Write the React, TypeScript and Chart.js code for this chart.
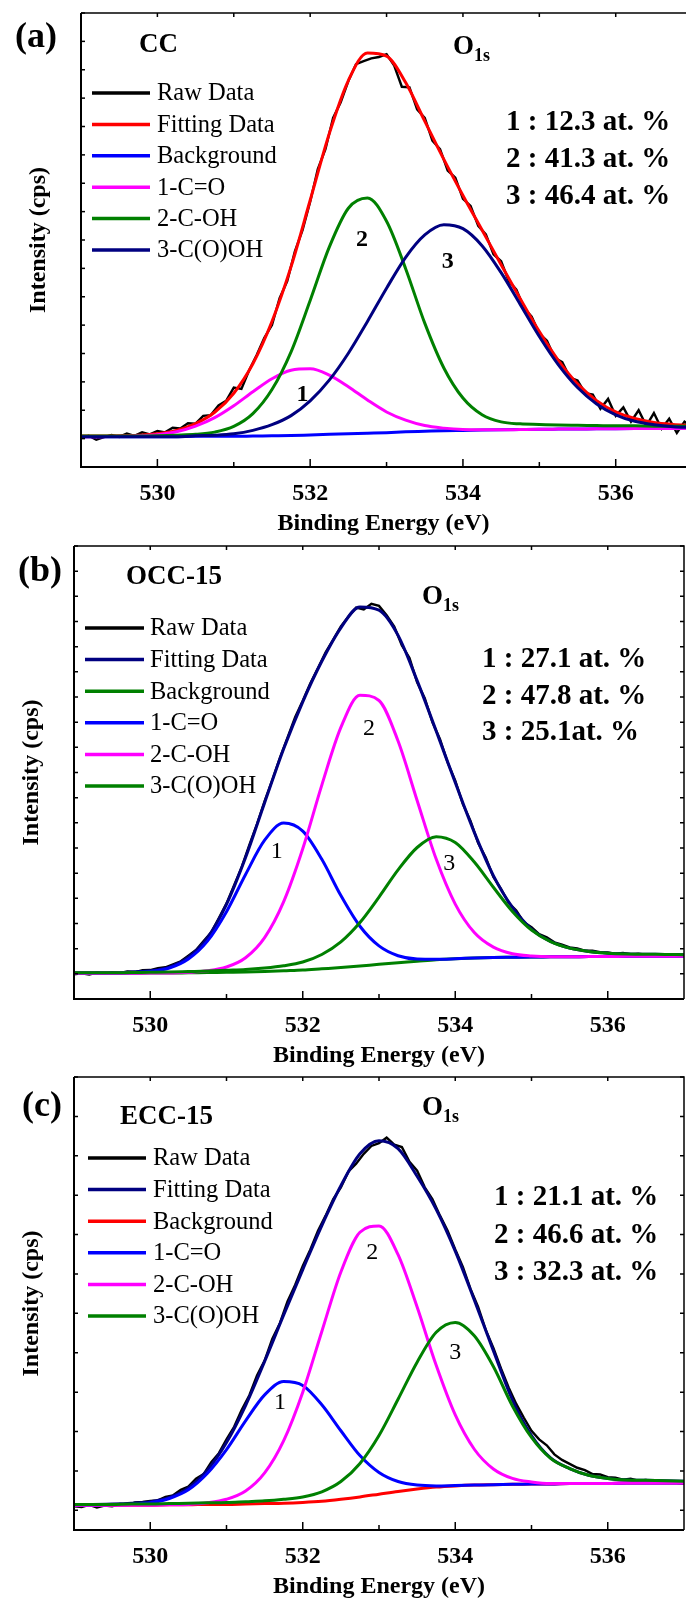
import React, { useEffect, useRef } from 'react';
import { Chart, registerables } from 'chart.js';

Chart.register(...registerables);

const SERIF = "'Liberation Serif', 'Times New Roman', Times, serif";
Chart.defaults.font.family = SERIF;
Chart.defaults.color = '#000';

// ---------- shared axes ----------
const ENERGY = [529, 529.25, 529.5, 529.75, 530, 530.25, 530.5, 530.75, 531, 531.25, 531.5, 531.75, 532, 532.25, 532.5, 532.75, 533, 533.25, 533.5, 533.75, 534, 534.25, 534.5, 534.75, 535, 535.25, 535.5, 535.75, 536, 536.25, 536.5, 536.75, 537];
const ENERGY_RAW = [529.0, 529.1, 529.2, 529.3, 529.4, 529.5, 529.6, 529.7, 529.8, 529.9, 530.0, 530.1, 530.2, 530.3, 530.4, 530.5, 530.6, 530.7, 530.8, 530.9, 531.0, 531.1, 531.2, 531.3, 531.4, 531.5, 531.6, 531.7, 531.8, 531.9, 532.0, 532.1, 532.2, 532.3, 532.4, 532.5, 532.6, 532.7, 532.8, 532.9, 533.0, 533.1, 533.2, 533.3, 533.4, 533.5, 533.6, 533.7, 533.8, 533.9, 534.0, 534.1, 534.2, 534.3, 534.4, 534.5, 534.6, 534.7, 534.8, 534.9, 535.0, 535.1, 535.2, 535.3, 535.4, 535.5, 535.6, 535.7, 535.8, 535.9, 536.0, 536.1, 536.2, 536.3, 536.4, 536.5, 536.6, 536.7, 536.8, 536.9, 537.0];
const X_TICKS = [530, 532, 534, 536];
const LEGEND_LABELS = ['Raw Data', 'Fitting Data', 'Background', '1-C=O', '2-C-OH', '3-C(O)OH'];
const PEAK_NAMES = ['1', '2', '3'];

// ---------- panel (a) CC ----------
const A_RAW = [1.02, 1.10, 0.96, 1.05, 1.13, 1.06, 1.18, 1.10, 1.22, 1.15, 1.27, 1.22, 1.38, 1.36, 1.54, 1.53, 1.80, 1.83, 2.17, 2.33, 2.80, 2.75, 3.40, 3.95, 4.55, 5.00, 5.95, 6.55, 7.60, 8.35, 9.35, 10.50, 11.20, 12.30, 12.85, 13.60, 14.20, 14.30, 14.40, 14.45, 14.55, 14.15, 13.40, 13.38, 12.60, 12.30, 11.50, 11.20, 10.45, 10.20, 9.45, 9.20, 8.50, 8.20, 7.50, 7.25, 6.55, 6.25, 5.60, 5.30, 4.70, 4.45, 3.85, 3.70, 3.15, 3.05, 2.60, 2.55, 2.05, 2.40, 1.80, 2.10, 1.60, 2.00, 1.45, 1.90, 1.35, 1.70, 1.20, 1.60, 1.40];
const A_FIT = [1.09, 1.09, 1.10, 1.12, 1.17, 1.29, 1.53, 1.93, 2.60, 3.64, 5.13, 7.06, 9.40, 11.75, 13.62, 14.59, 14.48, 13.55, 12.19, 10.84, 9.57, 8.35, 7.13, 5.93, 4.77, 3.75, 2.93, 2.34, 1.94, 1.71, 1.57, 1.50, 1.46];
const A_BACKGROUND = [1.07, 1.07, 1.07, 1.07, 1.07, 1.07, 1.08, 1.08, 1.08, 1.09, 1.10, 1.11, 1.13, 1.15, 1.17, 1.19, 1.21, 1.24, 1.26, 1.28, 1.29, 1.30, 1.31, 1.32, 1.33, 1.335, 1.34, 1.345, 1.35, 1.355, 1.36, 1.36, 1.36];
const A_PEAK1 = [1.07, 1.07, 1.08, 1.10, 1.14, 1.24, 1.44, 1.74, 2.16, 2.65, 3.11, 3.41, 3.46, 3.24, 2.83, 2.36, 1.94, 1.65, 1.46, 1.37, 1.32, 1.31, 1.31, 1.32, 1.33, 1.335, 1.34, 1.345, 1.35, 1.355, 1.36, 1.36, 1.36];
const A_PEAK2 = [1.09, 1.09, 1.09, 1.09, 1.10, 1.12, 1.15, 1.23, 1.43, 1.88, 2.73, 4.06, 5.87, 7.75, 9.12, 9.48, 8.66, 6.99, 5.07, 3.49, 2.43, 1.84, 1.59, 1.52, 1.50, 1.48, 1.47, 1.46, 1.45, 1.45, 1.44, 1.44, 1.43];
const A_PEAK3 = [1.07, 1.07, 1.07, 1.07, 1.07, 1.07, 1.10, 1.12, 1.17, 1.29, 1.49, 1.81, 2.33, 3.06, 4.01, 5.13, 6.30, 7.39, 8.18, 8.54, 8.40, 7.80, 6.85, 5.73, 4.60, 3.60, 2.80, 2.22, 1.84, 1.61, 1.49, 1.42, 1.39];
const A_Y_TICKS = [0, 1, 2, 3, 4, 5, 6, 7, 8, 9, 10, 11, 12, 13, 14, 15, 16];
const A_PERCENT = ['1 : 12.3 at. %', '2 : 41.3 at. %', '3 : 46.4 at. %'];

// ---------- panel (b) OCC-15 ----------
const B_RAW = [0.98, 1.02, 0.97, 1.05, 1.00, 1.06, 1.03, 1.09, 1.07, 1.14, 1.15, 1.22, 1.26, 1.38, 1.50, 1.72, 1.95, 2.30, 2.65, 3.22, 3.80, 4.52, 5.25, 6.12, 6.95, 7.86, 8.70, 9.58, 10.38, 11.20, 11.85, 12.55, 13.15, 13.78, 14.28, 14.80, 15.20, 15.55, 15.48, 15.70, 15.62, 15.25, 14.80, 14.05, 13.55, 12.58, 11.95, 11.00, 10.32, 9.40, 8.68, 7.75, 7.08, 6.20, 5.62, 4.85, 4.38, 3.82, 3.52, 3.05, 2.85, 2.58, 2.45, 2.25, 2.16, 2.05, 2.01, 1.92, 1.92, 1.86, 1.85, 1.80, 1.83, 1.78, 1.80, 1.76, 1.78, 1.75, 1.77, 1.74, 1.75];
const B_FIT = [1.04, 1.04, 1.04, 1.07, 1.12, 1.27, 1.66, 2.43, 3.76, 5.62, 7.80, 9.94, 11.81, 13.42, 14.75, 15.58, 15.45, 14.45, 12.65, 10.65, 8.60, 6.62, 4.90, 3.64, 2.78, 2.29, 2.02, 1.89, 1.82, 1.79, 1.78, 1.77, 1.76];
const B_BACKGROUND = [1.02, 1.02, 1.02, 1.02, 1.03, 1.03, 1.04, 1.05, 1.06, 1.07, 1.09, 1.12, 1.15, 1.20, 1.25, 1.31, 1.38, 1.44, 1.50, 1.56, 1.60, 1.63, 1.65, 1.66, 1.67, 1.675, 1.68, 1.685, 1.69, 1.695, 1.70, 1.70, 1.70];
const B_PEAK1 = [1.02, 1.02, 1.02, 1.04, 1.09, 1.23, 1.59, 2.30, 3.47, 4.95, 6.31, 6.99, 6.67, 5.55, 4.11, 2.89, 2.11, 1.72, 1.59, 1.58, 1.60, 1.63, 1.65, 1.66, 1.67, 1.675, 1.68, 1.685, 1.69, 1.695, 1.70, 1.70, 1.70];
const B_PEAK2 = [1.02, 1.02, 1.02, 1.02, 1.03, 1.03, 1.06, 1.12, 1.27, 1.64, 2.44, 3.87, 5.97, 8.50, 10.79, 12.07, 11.86, 10.25, 7.89, 5.56, 3.77, 2.64, 2.06, 1.80, 1.71, 1.68, 1.68, 1.685, 1.69, 1.695, 1.70, 1.70, 1.70];
const B_PEAK3 = [1.04, 1.04, 1.04, 1.05, 1.06, 1.07, 1.09, 1.11, 1.14, 1.17, 1.23, 1.32, 1.47, 1.77, 2.27, 3.04, 4.05, 5.13, 6.02, 6.45, 6.22, 5.44, 4.44, 3.48, 2.74, 2.28, 2.02, 1.89, 1.82, 1.79, 1.78, 1.77, 1.76];
const B_Y_TICKS = [0, 1, 2, 3, 4, 5, 6, 7, 8, 9, 10, 11, 12, 13, 14, 15, 16, 17, 18];
const B_PERCENT = ['1 : 27.1 at. %', '2 : 47.8 at. %', '3 : 25.1at. %'];

// ---------- panel (c) ECC-15 ----------
const C_RAW = [0.60, 0.58, 0.64, 0.57, 0.62, 0.60, 0.66, 0.64, 0.70, 0.71, 0.74, 0.75, 0.84, 0.88, 1.02, 1.10, 1.30, 1.42, 1.72, 1.95, 2.30, 2.62, 3.05, 3.42, 3.92, 4.30, 4.85, 5.25, 5.80, 6.22, 6.70, 7.12, 7.60, 7.98, 8.40, 8.70, 9.10, 9.30, 9.55, 9.75, 9.82, 9.96, 9.78, 9.72, 9.35, 9.12, 8.70, 8.40, 7.98, 7.60, 7.12, 6.68, 6.12, 5.66, 5.08, 4.62, 4.10, 3.62, 3.20, 2.85, 2.52, 2.30, 2.15, 1.92, 1.78, 1.68, 1.58, 1.52, 1.42, 1.41, 1.34, 1.33, 1.28, 1.30, 1.25, 1.27, 1.23, 1.24, 1.21, 1.20, 1.18];
const C_FIT = [0.65, 0.65, 0.66, 0.68, 0.72, 0.83, 1.07, 1.52, 2.22, 3.16, 4.28, 5.46, 6.61, 7.73, 8.74, 9.55, 9.88, 9.68, 8.98, 8.14, 7.08, 5.84, 4.55, 3.30, 2.40, 1.83, 1.56, 1.39, 1.31, 1.27, 1.26, 1.25, 1.24];
const C_BACKGROUND = [0.63, 0.63, 0.63, 0.63, 0.63, 0.64, 0.64, 0.65, 0.65, 0.66, 0.67, 0.68, 0.70, 0.73, 0.78, 0.84, 0.91, 0.98, 1.04, 1.09, 1.12, 1.14, 1.15, 1.16, 1.17, 1.17, 1.18, 1.18, 1.18, 1.19, 1.19, 1.19, 1.19];
const C_PEAK1 = [0.63, 0.63, 0.64, 0.65, 0.69, 0.80, 1.02, 1.44, 2.04, 2.77, 3.43, 3.77, 3.67, 3.18, 2.52, 1.89, 1.46, 1.23, 1.14, 1.12, 1.13, 1.14, 1.15, 1.16, 1.17, 1.17, 1.18, 1.18, 1.18, 1.19, 1.19, 1.19, 1.19];
const C_PEAK2 = [0.63, 0.63, 0.63, 0.63, 0.63, 0.64, 0.65, 0.69, 0.78, 0.99, 1.45, 2.27, 3.50, 5.04, 6.55, 7.56, 7.72, 6.99, 5.66, 4.18, 2.92, 2.05, 1.55, 1.31, 1.22, 1.18, 1.18, 1.18, 1.18, 1.19, 1.19, 1.19, 1.19];
const C_PEAK3 = [0.65, 0.65, 0.65, 0.66, 0.66, 0.67, 0.68, 0.69, 0.70, 0.72, 0.74, 0.78, 0.84, 0.97, 1.23, 1.69, 2.40, 3.32, 4.26, 5.02, 5.27, 4.93, 4.15, 3.15, 2.35, 1.82, 1.56, 1.39, 1.31, 1.27, 1.26, 1.25, 1.24];
const C_Y_TICKS = [0.5, 1.5, 2.5, 3.5, 4.5, 5.5, 6.5, 7.5, 8.5, 9.5, 10.5, 11.5];
const C_PERCENT = ['1 : 21.1 at. %', '2 : 46.6 at. %', '3 : 32.3 at. %'];

const NAVY = '#000080';
const GREEN = '#008000';
const MAGENTA = '#ff00ff';
const BLUE = '#0000ff';
const RED = '#ff0000';
const BLACK = '#000000';

type Panel = {
  id: string;
  letter: string;
  sample: string;
  canvasTop: number;
  height: number;
  plot: { left: number; top: number; right: number; bottom: number };
  xMax: number;
  yMin: number;
  yMax: number;
  yTicks: number[];
  rightBorder: boolean;
  series: number[][];
  colors: string[];
  percent: string[];
  peakPos: number[][];
  peakBold: boolean;
  yTitleX: number;
  letterPos: number[];
  samplePos: number[];
  oPos: number[];
  legend: { x1: number; x2: number; tx: number; y0: number; step: number };
  percentPos: { x: number; ys: number[] };
};

const PANELS: Panel[] = [
  {
    id: 'a', letter: '(a)', sample: 'CC', canvasTop: 0, height: 545,
    plot: { left: 81, top: 13, right: 686, bottom: 467 }, xMax: 536.92,
    yMin: 0, yMax: 16, yTicks: A_Y_TICKS, rightBorder: false,
    series: [A_RAW, A_FIT, A_BACKGROUND, A_PEAK1, A_PEAK2, A_PEAK3],
    colors: [BLACK, RED, BLUE, MAGENTA, GREEN, NAVY],
    percent: A_PERCENT,
    peakPos: [[531.9, 2.54], [532.68, 8.0], [533.8, 7.24]], peakBold: true,
    yTitleX: 39, letterPos: [36, 38], samplePos: [139, 45], oPos: [453, 47],
    legend: { x1: 92, x2: 150, tx: 157, y0: 93, step: 31.4 },
    percentPos: { x: 506, ys: [123, 160, 197] },
  },
  {
    id: 'b', letter: '(b)', sample: 'OCC-15', canvasTop: 530, height: 545,
    plot: { left: 74, top: 546, right: 684, bottom: 999 }, xMax: 537,
    yMin: 0, yMax: 18, yTicks: B_Y_TICKS, rightBorder: true,
    series: [B_RAW, B_FIT, B_BACKGROUND, B_PEAK1, B_PEAK2, B_PEAK3],
    colors: [BLACK, NAVY, GREEN, BLUE, MAGENTA, GREEN],
    percent: B_PERCENT,
    peakPos: [[531.66, 5.85], [532.87, 10.73], [533.92, 5.36]], peakBold: false,
    yTitleX: 32, letterPos: [40, 572], samplePos: [126, 577], oPos: [422, 597],
    legend: { x1: 85, x2: 144, tx: 150, y0: 628, step: 31.6 },
    percentPos: { x: 482, ys: [660, 697, 733] },
  },
  {
    id: 'c', letter: '(c)', sample: 'ECC-15', canvasTop: 1062, height: 540,
    plot: { left: 74, top: 1077, right: 684, bottom: 1530 }, xMax: 537,
    yMin: 0, yMax: 11.5, yTicks: C_Y_TICKS, rightBorder: true,
    series: [C_RAW, C_FIT, C_BACKGROUND, C_PEAK1, C_PEAK2, C_PEAK3],
    colors: [BLACK, NAVY, RED, BLUE, MAGENTA, GREEN],
    percent: C_PERCENT,
    peakPos: [[531.7, 3.22], [532.91, 7.03], [534.0, 4.49]], peakBold: false,
    yTitleX: 32, letterPos: [42, 1107], samplePos: [120, 1117], oPos: [422, 1108],
    legend: { x1: 88, x2: 146, tx: 153, y0: 1158, step: 31.6 },
    percentPos: { x: 494, ys: [1198, 1236, 1273] },
  },
];

const W = 686;
const TITLE_LH = 24 * 1.2;

const decorPlugin = {
  id: 'decor',
  afterDatasetsDraw(chart: any, _args: any, opts: any) {
    const p: Panel = opts.panel;
    const off = p.canvasTop;
    const ctx = chart.ctx as CanvasRenderingContext2D;
    const { left, right, top, bottom } = chart.chartArea;
    const xs = chart.scales.x;
    const ys = chart.scales.y;
    ctx.save();
    ctx.strokeStyle = '#000';
    ctx.fillStyle = '#000';
    ctx.lineWidth = 2;
    ctx.beginPath();
    ctx.moveTo(left, top);
    ctx.lineTo(left, bottom);
    ctx.lineTo(right, bottom);
    ctx.stroke();
    ctx.lineWidth = 1.5;
    ctx.beginPath();
    ctx.moveTo(left, top);
    ctx.lineTo(right, top);
    if (p.rightBorder) ctx.lineTo(right, bottom);
    ctx.stroke();
    ctx.lineWidth = 1.5;
    for (let e = Math.ceil(xs.min); e <= Math.floor(xs.max); e++) {
      const x = xs.getPixelForValue(e);
      if (x <= left + 1 || x >= right - 1) continue;
      const major = X_TICKS.includes(e);
      ctx.beginPath();
      ctx.moveTo(x, bottom);
      ctx.lineTo(x, bottom - (major ? 8 : 5));
      ctx.moveTo(x, top);
      ctx.lineTo(x, top + 4);
      ctx.stroke();
    }
    ys.ticks.forEach((t: any) => {
      const y = ys.getPixelForValue(t.value);
      ctx.beginPath();
      ctx.moveTo(left, y);
      ctx.lineTo(left + 4, y);
      if (p.rightBorder) {
        ctx.moveTo(right, y);
        ctx.lineTo(right - 4, y);
      }
      ctx.stroke();
    });
    ctx.font = `${p.peakBold ? 'bold ' : ''}24px ${SERIF}`;
    ctx.textAlign = 'center';
    ctx.textBaseline = 'middle';
    PEAK_NAMES.forEach((n, i) => {
      ctx.fillText(n, xs.getPixelForValue(p.peakPos[i][0]), ys.getPixelForValue(p.peakPos[i][1]));
    });
    ctx.font = `bold 36px ${SERIF}`;
    ctx.fillText(p.letter, p.letterPos[0], p.letterPos[1] - off);
    ctx.textAlign = 'left';
    ctx.font = `bold 27px ${SERIF}`;
    ctx.fillText(p.sample, p.samplePos[0], p.samplePos[1] - off);
    ctx.font = `bold 27px ${SERIF}`;
    ctx.fillText('O', p.oPos[0], p.oPos[1] - off);
    const ow = ctx.measureText('O').width;
    ctx.font = `bold 18px ${SERIF}`;
    ctx.fillText('1s', p.oPos[0] + ow, p.oPos[1] - off + 9);
    ctx.font = `bold 29px ${SERIF}`;
    p.percent.forEach((t, i) => ctx.fillText(t, p.percentPos.x, p.percentPos.ys[i] - off));
    ctx.font = `24.5px ${SERIF}`;
    chart.data.datasets.forEach((ds: any, i: number) => {
      const y = p.legend.y0 + i * p.legend.step - off;
      ctx.strokeStyle = ds.borderColor;
      ctx.lineWidth = 3.5;
      ctx.beginPath();
      ctx.moveTo(p.legend.x1, y);
      ctx.lineTo(p.legend.x2, y);
      ctx.stroke();
      ctx.fillStyle = '#000';
      ctx.fillText(ds.label, p.legend.tx, y + 1);
    });
    ctx.restore();
  },
};

function buildConfig(p: Panel): any {
  const H = p.height;
  const plotBottom = p.plot.bottom - p.canvasTop;
  const plotTop = p.plot.top - p.canvasTop;
  const datasets = p.series.map((vals, i) => {
    const xsrc = i === 0 ? ENERGY_RAW : ENERGY;
    return {
      label: LEGEND_LABELS[i],
      data: xsrc.map((x, k) => ({ x, y: vals[k] })),
      borderColor: p.colors[i],
      backgroundColor: p.colors[i],
      borderWidth: i === 0 ? 2.4 : 3,
      pointRadius: 0,
      fill: false,
      tension: i === 0 ? 0 : 0.4,
      cubicInterpolationMode: i === 0 ? 'default' : 'monotone',
      order: 10 - i,
    };
  });
  const axisFont = () => ({ family: SERIF, size: 24, weight: 'bold' });
  return {
    type: 'line',
    data: { datasets },
    plugins: [decorPlugin],
    options: {
      animation: false,
      responsive: false,
      devicePixelRatio: 1,
      events: [],
      font: { family: SERIF },
      layout: { padding: { top: plotTop, left: 0, right: W - p.plot.right, bottom: 0 } },
      plugins: {
        legend: { display: false },
        tooltip: { enabled: false },
        decor: { panel: p },
      },
      scales: {
        x: {
          type: 'linear',
          position: 'bottom',
          min: 529,
          max: p.xMax,
          afterBuildTicks: (s: any) => { s.ticks = X_TICKS.map((v) => ({ value: v })); },
          afterFit: (s: any) => { s.height = H - plotBottom; },
          grid: { display: false, drawTicks: false },
          border: { display: false },
          ticks: {
            autoSkip: false,
            maxRotation: 0,
            padding: 12,
            color: '#000',
            font: axisFont(),
            callback: (v: any) => String(v),
          },
          title: {
            display: true,
            text: 'Binding Energy (eV)',
            color: '#000',
            font: axisFont(),
            padding: { top: 0, bottom: Math.max(0, H - (plotBottom + 57) - TITLE_LH / 2) },
          },
        },
        y: {
          type: 'linear',
          position: 'left',
          min: p.yMin,
          max: p.yMax,
          afterBuildTicks: (s: any) => { s.ticks = p.yTicks.map((v) => ({ value: v })); },
          afterFit: (s: any) => { s.width = p.plot.left; },
          grid: { display: false, drawTicks: false },
          border: { display: false },
          ticks: { display: false },
          title: {
            display: true,
            text: 'Intensity (cps)',
            color: '#000',
            font: axisFont(),
            padding: { top: p.yTitleX - TITLE_LH / 2, bottom: 0 },
          },
        },
      },
    },
  };
}

function PanelChart({ spec }: { spec: Panel }) {
  const ref = useRef<HTMLCanvasElement>(null);
  useEffect(() => {
    if (!ref.current) return;
    const chart = new Chart(ref.current, buildConfig(spec));
    return () => chart.destroy();
  }, [spec]);
  return (
    <canvas
      ref={ref}
      width={W}
      height={spec.height}
      style={{ position: 'absolute', left: 0, top: spec.canvasTop, width: W, height: spec.height, display: 'block' }}
    />
  );
}

export default function App() {
  return (
    <div style={{ position: 'absolute', left: 0, top: 0, width: W, height: 1602, background: '#fff', overflow: 'hidden' }}>
      {PANELS.map((p) => (
        <PanelChart key={p.id} spec={p} />
      ))}
    </div>
  );
}
